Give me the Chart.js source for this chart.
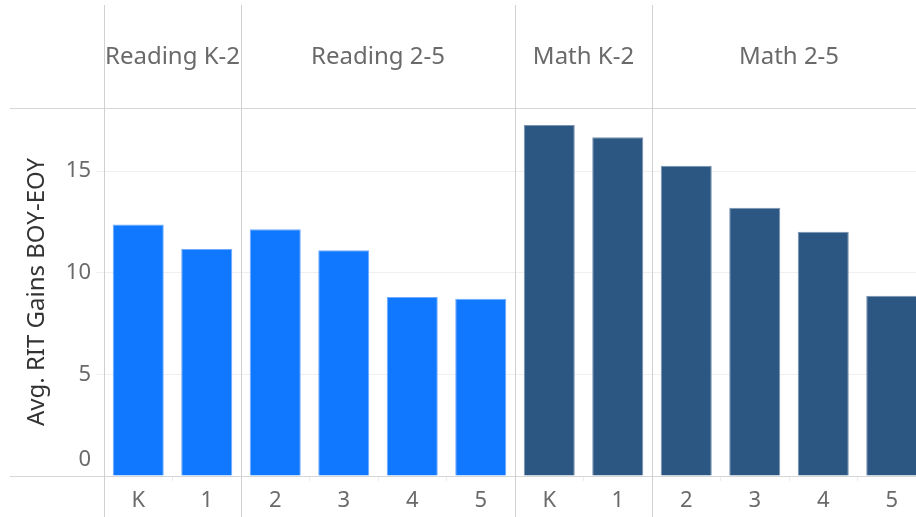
<!DOCTYPE html>
<html>
<head>
<meta charset="utf-8">
<title>Avg. RIT Gains BOY-EOY</title>
<script src="https://cdn.jsdelivr.net/npm/chart.js@4/dist/chart.umd.min.js"></script>
<style>
  html, body { margin: 0; padding: 0; background: #ffffff; overflow: hidden; }
  #wrap { width: 916px; height: 517px; overflow: hidden; }
  canvas { display: block; }
</style>
</head>
<body>
<div id="wrap"><canvas id="chart" width="926" height="517" style="width:926px;height:517px"></canvas></div>
<script>
// Subject / grade-band panes, and the grades inside each pane
const groups = ['Reading K-2', 'Reading 2-5', 'Math K-2', 'Math 2-5'];
const groupGrades = [['K', '1'], ['2', '3', '4', '5'], ['K', '1'], ['2', '3', '4', '5']];

// Average RIT gain from beginning to end of year, per pane and grade
const readingK2 = [12.37, 11.17];
const reading25 = [12.14, 11.10, 8.80, 8.72];
const mathK2 = [17.27, 16.66];
const math25 = [15.26, 13.19, 12.01, 8.87];

const yTicks = [0, 5, 10, 15];

const READING = '#0f78fe';
const READING_EDGE = '#6eaaff';
const MATH = '#2b5782';
const MATH_EDGE = '#7a93b0';

const FONT = "'Noto Sans', sans-serif";
const TEXT_GRAY = '#6a6a6a';

// Flatten panes into one category axis
const labels = [];
const values = [];
const fills = [];
const edges = [];
const paneOf = [];
[readingK2, reading25, mathK2, math25].forEach((vals, g) => {
  vals.forEach((v, i) => {
    labels.push(groupGrades[g][i]);
    values.push(v);
    const isReading = g < 2;
    fills.push(isReading ? READING : MATH);
    edges.push(isReading ? READING_EDGE : MATH_EDGE);
    paneOf.push(g);
  });
});

// Draws pane headers, pane dividers and the frame lines
const panePlugin = {
  id: 'panes',
  beforeDatasetsDraw(chart) {
    const { ctx, chartArea, scales } = chart;
    const x = scales.x;
    const n = labels.length;
    const half = (x.getPixelForValue(1) - x.getPixelForValue(0)) / 2;
    ctx.save();
    // header rule and baseline rule
    ctx.strokeStyle = '#d6d6d6';
    ctx.lineWidth = 1;
    ctx.beginPath();
    ctx.moveTo(10, chartArea.top + 0.5);
    ctx.lineTo(chart.width, chartArea.top + 0.5);
    ctx.moveTo(10, chartArea.bottom + 0.5);
    ctx.lineTo(chart.width, chartArea.bottom + 0.5);
    ctx.stroke();
    // pane dividers
    ctx.strokeStyle = '#d0d0d0';
    const bounds = [];
    for (let i = 0; i < n; i++) {
      if (i === 0 || paneOf[i] !== paneOf[i - 1]) {
        bounds.push(x.getPixelForValue(i) - half);
      }
    }
    bounds.push(x.getPixelForValue(n - 1) + half);
    ctx.beginPath();
    bounds.forEach(b => {
      const px = Math.round(b) + 0.5;
      ctx.moveTo(px, 5);
      ctx.lineTo(px, chart.height);
    });
    ctx.stroke();
    // pane headers
    ctx.fillStyle = TEXT_GRAY;
    ctx.font = "24px " + FONT;
    ctx.textAlign = 'center';
    ctx.textBaseline = 'middle';
    for (let g = 0; g < groups.length; g++) {
      const cx = (bounds[g] + bounds[g + 1]) / 2;
      ctx.fillText(groups[g], cx, 57);
    }
    ctx.restore();
  }
};

new Chart(document.getElementById('chart'), {
  type: 'bar',
  data: {
    labels: labels,
    datasets: [{
      data: values,
      backgroundColor: fills,
      borderColor: edges,
      borderWidth: 1,
      categoryPercentage: 1,
      barPercentage: 0.745
    }]
  },
  options: {
    responsive: false,
    animation: false,
    layout: { padding: { top: 108, left: 0, right: 0, bottom: 0 } },
    plugins: { legend: { display: false }, tooltip: { enabled: false } },
    scales: {
      x: {
        offset: true,
        border: { display: false },
        grid: {
          offset: true,
          drawOnChartArea: false,
          drawTicks: true,
          tickLength: 5,
          color: '#ececec'
        },
        ticks: {
          color: TEXT_GRAY,
          font: { family: FONT, size: 22 },
          padding: 7,
          maxRotation: 0,
          autoSkip: false
        },
        afterFit(s) { s.height = 41; }
      },
      y: {
        min: 0,
        max: 18.1,
        border: { display: false },
        afterBuildTicks(s) { s.ticks = yTicks.map(v => ({ value: v })); },
        grid: { color: '#efefef', tickLength: 8, lineWidth: 1 },
        ticks: {
          color: TEXT_GRAY,
          font: { family: FONT, size: 22, lineHeight: 1.45 },
          padding: 5,
          // the zero label sits just above the baseline rule
          callback: v => (v === 0 ? ['0', ''] : String(v))
        },
        title: {
          display: true,
          text: 'Avg. RIT Gains BOY-EOY',
          color: '#333333',
          font: { family: FONT, size: 24 },
          padding: { top: 23, bottom: 0 }
        },
        afterFit(s) { s.width = 104; }
      }
    }
  },
  plugins: [panePlugin]
});
</script>
</body>
</html>
